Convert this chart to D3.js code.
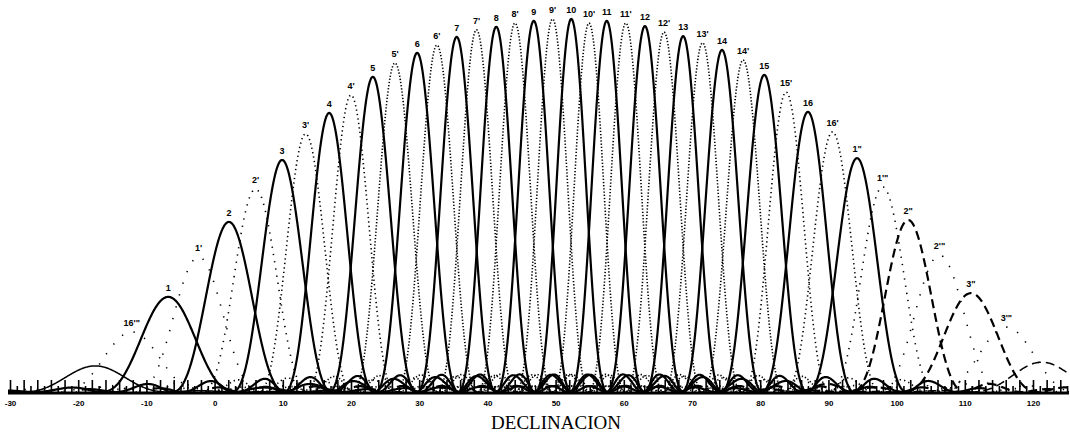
<!DOCTYPE html>
<html>
<head>
<meta charset="utf-8">
<script src="https://cdn.jsdelivr.net/npm/d3@7"></script>
<style>
  html, body { margin: 0; padding: 0; background: #fff; }
  svg { display: block; }
</style>
</head>
<body>
<svg id="chart" width="1070" height="438"></svg>
<script>
// Main beams (solid): centre declination (deg), peak response (0-100), null half-width (deg)
const mainLabels  = ["", "1", "2", "3", "4", "5", "6", "7", "8", "9", "10", "11", "12", "13", "14", "15", "16", "1\"", "2\"", "3\"", ""];
const mainCentres = [-17.5, -6.8, 2.1, 9.9, 16.8, 23.2, 29.7, 35.5, 41.3, 46.8, 52.3, 57.5, 63.1, 68.7, 74.4, 80.6, 87.0, 94.2, 101.7, 110.9, 121.3];
const mainPeaks   = [7.0, 25.5, 45.6, 62.2, 74.8, 84.5, 90.9, 95.2, 97.9, 99.5, 100, 99.5, 98.1, 95.4, 91.7, 85.0, 75.1, 62.7, 46.1, 26.5, 8.0];
const mainWidths  = [10.7, 9.8, 8.3, 7.3, 6.6, 6.4, 6.1, 5.8, 5.6, 5.5, 5.3, 5.4, 5.6, 5.6, 5.9, 6.3, 6.8, 7.3, 8.3, 9.8, 10.4];

// Interleaved beams (dotted)
const interLabels  = ["16'\"", "1'", "2'", "3'", "4'", "5'", "6'", "7'", "8'", "9'", "10'", "11'", "12'", "13'", "14'", "15'", "16'", "1'\"", "2'\"", "3'\""];
const interCentres = [-12.15, -2.35, 6.0, 13.35, 20.0, 26.45, 32.6, 38.4, 44.05, 49.55, 54.9, 60.3, 65.9, 71.55, 77.5, 83.8, 90.6, 97.95, 106.3, 116.1];
const interPeaks   = [16.1, 36.2, 54.4, 69.2, 79.6, 88.2, 93.0, 97.1, 98.9, 100, 98.9, 98.9, 96.5, 93.6, 89.0, 80.4, 69.7, 55.0, 36.7, 17.4];
const interWidths  = [10.2, 9.0, 7.8, 6.9, 6.5, 6.2, 5.9, 5.7, 5.5, 5.4, 5.3, 5.5, 5.6, 5.7, 6.0, 6.4, 7.0, 7.8, 9.0, 10.1];

// Declination axis
const tickValues = [-30, -20, -10, 0, 10, 20, 30, 40, 50, 60, 70, 80, 90, 100, 110, 120];
const tickLabels = ["-30", "-20", "-10", "0", "10", "20", "30", "40", "50", "60", "70", "80", "90", "100", "110", "120"];
const axisTitle = "DECLINACION";

const svg = d3.select("#chart");

const x = d3.scaleLinear().domain([-30, 120]).range([10, 1033]);
const y = d3.scaleLinear().domain([0, 100]).range([392, 19]);
const decMin = x.invert(8), decMax = x.invert(1069);

svg.append("defs").append("clipPath").attr("id", "plot-clip")
  .append("rect").attr("x", x(decMin)).attr("y", 0)
  .attr("width", x(decMax) - x(decMin)).attr("height", y(0));

// sinc^2 beam response
function sinc2(u) {
  if (Math.abs(u) < 1e-9) return 1;
  const s = Math.sin(Math.PI * u) / (Math.PI * u);
  return s * s;
}
function beamPoints(c, p, w) {
  return d3.range(-2.6, 2.6001, 0.01).map(u => [c + u * w, p * sinc2(u)]);
}
const line = d3.line().x(d => x(d[0])).y(d => y(d[1]));

const plot = svg.append("g").attr("clip-path", "url(#plot-clip)");

// ruler ticks along the baseline
const ruler = d3.axisTop(x)
  .tickValues(d3.range(-30, 126, 1))
  .tickFormat("")
  .tickSizeOuter(0);
const rulerG = svg.append("g").attr("transform", `translate(0,${y(0)})`).call(ruler);
rulerG.select(".domain").remove();
rulerG.selectAll(".tick line")
  .attr("stroke", "#000")
  .attr("stroke-width", 1.6)
  .attr("y2", d => (d % 2 === 0 ? -12 : -6));

// dotted interleaved beams; weaker beams are printed with sparser dots
const interData = interCentres.map((c, i) => ({ c, p: interPeaks[i], w: interWidths[i], label: interLabels[i] }));
plot.selectAll("path.inter").data(interData).join("path")
  .attr("class", "inter")
  .attr("d", d => line(beamPoints(d.c, d.p, d.w)))
  .attr("fill", "none")
  .attr("stroke", "#000")
  .attr("stroke-width", 1.6)
  .attr("stroke-dasharray", d => {
    const gap = d.p >= 85 ? 1.9 : d.p >= 65 ? 3.2 : d.p >= 50 ? 6 : 11;
    return `1.3,${gap}`;
  });

// solid main beams (the last ones printed dashed)
const mainData = mainCentres.map((c, i) => ({ i, c, p: mainPeaks[i], w: mainWidths[i], label: mainLabels[i] }));
plot.selectAll("path.main").data(mainData).join("path")
  .attr("class", "main")
  .attr("d", d => line(beamPoints(d.c, d.p, d.w)))
  .attr("fill", "none")
  .attr("stroke", "#000")
  .attr("stroke-width", d => (d.p < 10 ? 1.5 : 2.2))
  .attr("stroke-dasharray", d => (d.i >= 18 ? "9,5" : null));

// baseline
svg.append("line")
  .attr("x1", x(decMin)).attr("x2", x(decMax))
  .attr("y1", y(0) + 1).attr("y2", y(0) + 1)
  .attr("stroke", "#000").attr("stroke-width", 3);

// beam labels
const labelData = mainData.concat(interData).filter(d => d.label);
svg.selectAll("text.beam").data(labelData).join("text")
  .attr("class", "beam")
  .attr("x", d => x(d.c))
  .attr("y", d => y(d.p) - 6)
  .attr("text-anchor", "middle")
  .attr("font-family", "Liberation Sans, Arial, sans-serif")
  .attr("font-weight", "bold")
  .attr("font-size", 9)
  .attr("fill", "#000")
  .text(d => d.label);

// tick labels
const labelAxis = d3.axisBottom(x)
  .tickValues(tickValues)
  .tickFormat((d, i) => tickLabels[i])
  .tickSize(0)
  .tickPadding(8);
const labG = svg.append("g").attr("transform", `translate(0,${y(0)})`).call(labelAxis);
labG.select(".domain").remove();
labG.selectAll("text")
  .attr("font-family", "Liberation Sans, Arial, sans-serif")
  .attr("font-weight", "bold")
  .attr("font-size", 8)
  .attr("fill", "#000");

// axis title
svg.append("text")
  .attr("x", 556).attr("y", 429)
  .attr("text-anchor", "middle")
  .attr("font-family", "Liberation Serif, Times New Roman, serif")
  .attr("font-size", 19)
  .attr("fill", "#000")
  .text(axisTitle);
</script>
</body>
</html>
